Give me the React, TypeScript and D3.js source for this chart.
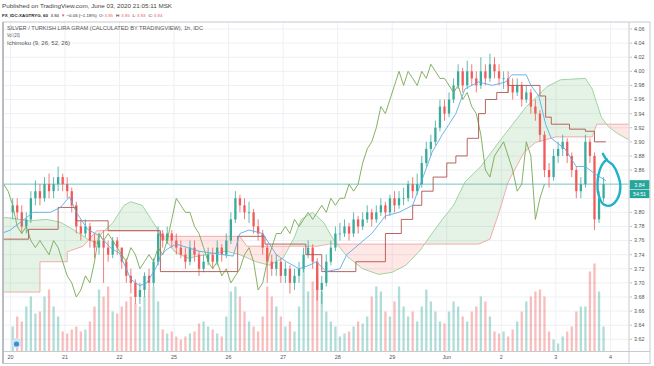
import * as d3 from 'd3';
import { useEffect } from 'react';

const dayLabels = ['20', '21', '22', '25', '26', '27', '28', '29', 'Jun', '2', '3', '4'];
const priceTicks = [3.62, 3.64, 3.66, 3.68, 3.70, 3.72, 3.74, 3.76, 3.78, 3.80, 3.82, 3.84, 3.86, 3.88, 3.90, 3.92, 3.94, 3.96, 3.98, 4.00, 4.02, 4.04, 4.06];

// 2h bars from May 20 00:00 (trading hours only)
const firstOpen = 3.80;
const closes = [
  3.81, 3.80, 3.78, 3.79, 3.82, 3.83, 3.82, 3.84, 3.83, 3.84, 3.85, 3.84,
  3.83, 3.81, 3.78, 3.77, 3.78, 3.76, 3.75, 3.76, 3.75, 3.74, 3.76, 3.75,
  3.73, 3.71, 3.70, 3.68, 3.69, 3.71, 3.70, 3.73, 3.77, 3.76, 3.77, 3.76,
  3.75, 3.74, 3.73, 3.75, 3.74, 3.72, 3.73, 3.74, 3.73, 3.75, 3.74, 3.76,
  3.79, 3.82, 3.81, 3.80, 3.80, 3.78, 3.77, 3.75, 3.73, 3.72, 3.73, 3.71,
  3.72, 3.70, 3.71, 3.72, 3.74, 3.75, 3.73, 3.69, 3.70, 3.73, 3.75, 3.77,
  3.77, 3.78, 3.77, 3.79, 3.78, 3.79, 3.80, 3.79, 3.80, 3.81, 3.80, 3.82,
  3.81, 3.82, 3.82, 3.84, 3.83, 3.84, 3.87, 3.89, 3.90, 3.92, 3.95, 3.94,
  3.96, 3.98, 4.00, 3.98, 4.00, 3.99, 3.98, 4.00, 3.99, 4.01, 4.00, 3.99,
  3.99, 3.98, 3.97, 3.98, 3.96, 3.97, 3.95, 3.94, 3.91, 3.86, 3.85, 3.88,
  3.89, 3.90, 3.88, 3.86, 3.83, 3.84, 3.90, 3.88, 3.79, 3.82, 3.84,
];
const highs = [
  3.82, 3.82, 3.81, 3.80, 3.83, 3.845, 3.84, 3.85, 3.855, 3.85, 3.865, 3.855,
  3.85, 3.835, 3.815, 3.79, 3.79, 3.785, 3.77, 3.77, 3.775, 3.76, 3.765, 3.765,
  3.75, 3.735, 3.72, 3.705, 3.70, 3.715, 3.72, 3.735, 3.78, 3.775, 3.78, 3.775,
  3.77, 3.76, 3.75, 3.76, 3.76, 3.745, 3.74, 3.75, 3.75, 3.76, 3.755, 3.77,
  3.80, 3.83, 3.825, 3.82, 3.815, 3.805, 3.79, 3.775, 3.755, 3.74, 3.74, 3.735,
  3.73, 3.725, 3.72, 3.73, 3.75, 3.76, 3.755, 3.735, 3.71, 3.74, 3.76, 3.78,
  3.785, 3.79, 3.785, 3.80, 3.795, 3.80, 3.81, 3.805, 3.81, 3.82, 3.815, 3.825,
  3.83, 3.83, 3.835, 3.845, 3.85, 3.855, 3.88, 3.90, 3.91, 3.93, 3.96, 3.96,
  3.97, 3.99, 4.01, 4.005, 4.015, 4.01, 4.00, 4.02, 4.01, 4.025, 4.02, 4.01,
  4.00, 4.00, 3.99, 3.99, 3.985, 3.98, 3.975, 3.96, 3.945, 3.915, 3.87, 3.89,
  3.90, 3.91, 3.905, 3.885, 3.865, 3.85, 3.91, 3.905, 3.885, 3.83, 3.85,
];
const lows = [
  3.79, 3.79, 3.77, 3.77, 3.785, 3.81, 3.81, 3.815, 3.82, 3.82, 3.83, 3.83,
  3.82, 3.80, 3.77, 3.76, 3.765, 3.75, 3.735, 3.74, 3.70, 3.73, 3.735, 3.74,
  3.72, 3.70, 3.685, 3.67, 3.67, 3.68, 3.69, 3.695, 3.725, 3.75, 3.755, 3.75,
  3.74, 3.735, 3.72, 3.725, 3.73, 3.71, 3.715, 3.725, 3.72, 3.725, 3.73, 3.735,
  3.755, 3.785, 3.80, 3.79, 3.785, 3.77, 3.76, 3.74, 3.70, 3.71, 3.71, 3.70,
  3.70, 3.685, 3.69, 3.70, 3.715, 3.735, 3.72, 3.675, 3.67, 3.695, 3.725, 3.745,
  3.76, 3.765, 3.76, 3.765, 3.77, 3.775, 3.785, 3.78, 3.785, 3.795, 3.79, 3.795,
  3.80, 3.805, 3.81, 3.815, 3.82, 3.825, 3.835, 3.865, 3.88, 3.895, 3.915, 3.93,
  3.935, 3.955, 3.975, 3.97, 3.975, 3.98, 3.97, 3.975, 3.98, 3.985, 3.99, 3.98,
  3.975, 3.97, 3.96, 3.965, 3.95, 3.955, 3.94, 3.93, 3.90, 3.85, 3.835, 3.845,
  3.87, 3.88, 3.87, 3.85, 3.82, 3.82, 3.835, 3.87, 3.775, 3.785, 3.815,
];
const volumes = [
  25, 35, 30, 45, 55, 38, 40, 55, 62, 45, 35, 20,
  18, 22, 25, 20, 22, 30, 45, 62, 55, 65, 40, 38,
  45, 50, 55, 48, 45, 55, 62, 65, 50, 22, 18, 20,
  15, 12, 15, 18, 20, 28, 30, 25, 22, 18, 15, 35,
  60, 65, 55, 40, 30, 25, 20, 35, 65, 55, 45, 35,
  25, 30, 20, 45, 85, 60, 70, 75, 60, 40, 30, 25,
  15, 18, 20, 25, 30, 28, 35, 55, 65, 60, 40, 35,
  50, 65, 45, 35, 40, 30, 45, 62, 50, 40, 30, 28,
  40, 50, 45, 35, 30, 40, 45, 55, 50, 35, 20, 18,
  20, 15, 22, 30, 40, 50, 55, 60, 62, 55, 20, 12,
  8, 15, 20, 25, 40, 45, 45, 80, 88, 60, 25,
];

// ichimoku lines: [hour, price]
const tenkan: [number, number][] = [
  [-4, 3.77], [0, 3.775], [10, 3.80], [17.5, 3.80], [22, 3.807], [26, 3.822], [29, 3.80], [34, 3.776],
  [39.5, 3.766], [44, 3.75], [48, 3.742], [53, 3.705], [57, 3.696], [60, 3.70], [64.5, 3.724],
  [66, 3.738], [69, 3.748], [73, 3.755], [78, 3.75], [83, 3.745], [89, 3.742], [98, 3.738],
  [101, 3.77], [105, 3.775], [111, 3.77], [114, 3.755], [117, 3.74], [121.5, 3.73], [127, 3.72],
  [131.5, 3.725], [134.6, 3.73], [139, 3.716], [145, 3.72], [148, 3.74], [153.5, 3.755], [159, 3.77],
  [165, 3.795], [171, 3.80], [177, 3.81], [181, 3.845], [185.5, 3.885], [190, 3.91], [196, 3.94],
  [200, 3.975], [206, 3.985], [212, 3.98], [218, 3.985], [220.6, 3.995], [227, 3.995], [229, 3.98],
  [232.5, 3.965], [235.5, 3.925], [238, 3.905], [244, 3.89], [249, 3.865], [253, 3.865], [257, 3.855],
  [262, 3.845],
];
const kijun: [number, number][] = [
  [-4, 3.762], [8, 3.776], [21, 3.807], [29, 3.788], [43, 3.774], [66, 3.716], [100, 3.766],
  [112, 3.755], [130, 3.74], [137, 3.716], [148, 3.716], [152, 3.73], [165, 3.77], [172, 3.79],
  [177, 3.81], [181, 3.83], [186, 3.85], [192, 3.87], [196, 3.88], [201, 3.905], [206, 3.94],
  [209, 3.96], [214, 3.97], [219, 3.98], [233, 3.965], [235.5, 3.935], [238, 3.925], [246, 3.918],
  [253, 3.915], [257, 3.90], [262, 3.90],
];
const spanA: [number, number][] = [
  [-4, 3.793], [0, 3.792], [8, 3.788], [16, 3.79], [22, 3.786], [28, 3.775], [34, 3.762], [38, 3.756],
  [40, 3.77], [45, 3.785], [50, 3.81], [53, 3.815], [58, 3.81], [62, 3.79], [66, 3.77], [72, 3.745],
  [78, 3.735], [86, 3.74], [95, 3.745], [101, 3.74], [108, 3.73], [114, 3.725], [120, 3.735],
  [125, 3.765], [128, 3.79], [133, 3.80], [138, 3.785], [142, 3.762], [148, 3.738], [155, 3.72],
  [162, 3.712], [168, 3.715], [174, 3.725], [180, 3.745], [185.5, 3.77], [190, 3.79], [195, 3.81],
  [200, 3.843], [207, 3.865], [215, 3.90], [221, 3.925], [227, 3.95], [232, 3.965], [236, 3.978],
  [242, 3.988], [253, 3.99], [256, 3.975], [258, 3.955], [260, 3.935], [263, 3.922], [267, 3.912],
  [272, 3.903],
];
const spanB: [number, number][] = [
  [-4, 3.687], [13, 3.687], [13, 3.73], [25, 3.73], [25, 3.744], [32, 3.752], [38, 3.774],
  [64.5, 3.774], [66, 3.766], [101, 3.766], [104, 3.752], [135, 3.752], [140, 3.755], [206, 3.755],
  [211, 3.762], [215, 3.80], [219, 3.843], [226, 3.885], [231, 3.899], [240, 3.907], [256, 3.907],
  [258, 3.925], [272, 3.925],
];

// hand drawn loop around the last bars: [hour, price]
const loopMark: [number, number][] = [
  [260.7, 3.883], [262.5, 3.874], [265.1, 3.867], [267.3, 3.853], [268.4, 3.836], [267.1, 3.819],
  [264.2, 3.81], [261.1, 3.811], [258.8, 3.825], [258.4, 3.845], [259.4, 3.861], [261.1, 3.871],
  [262.5, 3.875],
];

// header pieces: text, x, colour, bold
const headerParts: [string, number, string, boolean][] = [
  ['FX_IDC:XAGTRYG, 60', 2, '#222', true],
  ['3.84', 50.5, '#222', false],
  ['▼', 61, '#ef5a5a', false],
  ['−0.05 (−1.18%)', 66.5, '#222', false],
  ['O:', 99, '#222', false],
  ['3.85', 104.5, '#ef5a5a', false],
  ['H:', 116, '#222', false],
  ['3.85', 121.3, '#ef5a5a', false],
  ['L:', 132.5, '#222', false],
  ['3.83', 137, '#ef5a5a', false],
  ['C:', 148.5, '#222', false],
  ['3.84', 153.8, '#ef5a5a', false],
];

const UP = '#3aaa9b';
const DOWN = '#ef5a5a';
const FONT = "'Liberation Sans', Arial, sans-serif";

export default function App() {
  useEffect(() => {
    document.body.style.margin = '0';
  }, []);

  const W = 654, H = 366;
  const left = 3, right = 629, top = 22, bottom = 351.5;

  const x = d3.scaleLinear().domain([0, 264]).range([10.4, 610.4]);
  const y = d3.scaleLinear().domain([3.62, 4.06]).range([339.3, 29]);
  const yv = d3.scaleLinear().domain([0, 100]).range([bottom, bottom - 100]);

  const bars = closes.map((c, i) => {
    const o = i === 0 ? firstOpen : closes[i - 1];
    return { t: 2 * i + 1, o, c, hi: highs[i], lo: lows[i], v: volumes[i], up: c >= o };
  });
  const chikou: [number, number][] = closes.map((c, i) => [2 * i + 1 - 26, c]);

  const line = d3.line<[number, number]>().x(d => x(d[0])).y(d => y(d[1]));
  const stepLine = d3.line<[number, number]>().x(d => x(d[0])).y(d => y(d[1])).curve(d3.curveStepAfter);
  const loopLine = d3.line<[number, number]>().x(d => x(d[0])).y(d => y(d[1])).curve(d3.curveCatmullRom);

  const cloud = line([...spanA, ...spanB.slice().reverse()]) + 'Z';
  const bPath = line(spanB) ?? '';
  const bx0 = x(spanB[0][0]), bx1 = x(spanB[spanB.length - 1][0]);
  const clipAbove = `${bPath}L${bx1},0L${bx0},0Z`;
  const clipBelow = `${bPath}L${bx1},${H}L${bx0},${H}Z`;

  const bw = 2.3;
  const lastClose = closes[closes.length - 1];

  return (
    <svg width={W} height={H} style={{ display: 'block', background: '#fff', fontFamily: FONT }}>
      <defs>
        <clipPath id="pane"><rect x={left} y={top} width={right - left} height={bottom - top} /></clipPath>
        <clipPath id="above"><path d={clipAbove} /></clipPath>
        <clipPath id="below"><path d={clipBelow} /></clipPath>
      </defs>

      {/* header */}
      <text x={2} y={7.5} fontSize={5.6} fill="#444" textLength={170} lengthAdjust="spacingAndGlyphs">
        Published on TradingView.com, June 03, 2020 21:05:11 MSK
      </text>
      <g fontSize={4.4}>
        {headerParts.map(([t, px, col, bold], i) => (
          <text key={'h' + i} x={px} y={16.5} fill={col} fontWeight={bold ? 'bold' : 'normal'}>{t}</text>
        ))}
      </g>

      {/* grid */}
      <g stroke="#eef0f4" strokeWidth={1}>
        {priceTicks.map(p => (
          <line key={p} x1={left} x2={right} y1={y(p)} y2={y(p)} />
        ))}
        {dayLabels.map((d, i) => (
          <line key={d} x1={x(i * 24)} x2={x(i * 24)} y1={top} y2={bottom} />
        ))}
      </g>

      <g clipPath="url(#pane)">
        {/* volume */}
        {bars.map(b => (
          <rect key={'v' + b.t} x={x(b.t) - bw / 2} width={bw} y={yv(b.v)} height={bottom - yv(b.v)}
            fill={b.up ? UP : DOWN} opacity={0.4} />
        ))}

        {/* cloud */}
        <path d={cloud} fill="rgba(76,175,80,0.15)" clipPath="url(#above)" />
        <path d={cloud} fill="rgba(244,67,54,0.13)" clipPath="url(#below)" />
        <path d={line(spanA) ?? ''} fill="none" stroke="#98cf98" strokeWidth={0.9} />
        <path d={line(spanB) ?? ''} fill="none" stroke="#f2a3a3" strokeWidth={0.9} />

        {/* last price line */}
        <line x1={left} x2={right} y1={y(lastClose)} y2={y(lastClose)} stroke="#7ccbc3" strokeWidth={1} />

        {/* candles */}
        {bars.map(b => {
          const col = b.up ? UP : DOWN;
          const yt = y(Math.max(b.o, b.c));
          const yb = y(Math.min(b.o, b.c));
          return (
            <g key={'c' + b.t}>
              <line x1={x(b.t)} x2={x(b.t)} y1={y(b.hi)} y2={y(b.lo)} stroke={col} strokeWidth={0.8} />
              <rect x={x(b.t) - bw / 2} width={bw} y={yt} height={Math.max(0.8, yb - yt)} fill={col} />
            </g>
          );
        })}

        {/* ichimoku lines */}
        <path d={line(chikou) ?? ''} fill="none" stroke="#78a852" strokeWidth={0.9} />
        <path d={stepLine(kijun) ?? ''} fill="none" stroke="#b0544d" strokeWidth={0.9} />
        <path d={line(tenkan) ?? ''} fill="none" stroke="#5aaeea" strokeWidth={0.9} />

        {/* drawing */}
        <path d={loopLine(loopMark) ?? ''} fill="none" stroke="#22b2c8" strokeWidth={2.4} strokeLinecap="round" />
      </g>

      {/* legend */}
      <g fontSize={5.6} fill="#555">
        <text x={7} y={29.5} textLength={196} lengthAdjust="spacingAndGlyphs">SILVER / TURKISH LIRA GRAM (CALCULATED BY TRADINGVIEW), 1h, IDC</text>
        <text x={7} y={37} textLength={13} lengthAdjust="spacingAndGlyphs">Vol (20)</text>
        <text x={7} y={44.5} textLength={63} lengthAdjust="spacingAndGlyphs">Ichimoku (9, 26, 52, 26)</text>
      </g>

      {/* logo */}
      <circle cx={16.5} cy={343} r={5} fill="#cfe3f5" />
      <circle cx={16.5} cy={344} r={2.6} fill="#3b8fd8" />

      {/* price axis */}
      <g fontSize={5.4} fill="#555">
        {priceTicks.filter(p => Math.abs(p - 3.84) > 0.001 && Math.abs(p - 3.82) > 0.001).map(p => (
          <g key={'t' + p}>
            <line x1={630} x2={632} y1={y(p)} y2={y(p)} stroke="#999" strokeWidth={0.6} />
            <text x={634} y={y(p)} dy="0.35em">{p.toFixed(2)}</text>
          </g>
        ))}
      </g>
      <rect x={629.5} y={y(lastClose) - 4} width={20} height={9} fill="#26a69a" />
      <text x={639.5} y={y(lastClose) + 0.5} dy="0.35em" textAnchor="middle" fontSize={5.4} fill="#fff">3.84</text>
      <rect x={629.5} y={y(lastClose) + 5.5} width={20} height={8.5} fill="#26a69a" />
      <text x={639.5} y={y(lastClose) + 9.8} dy="0.35em" textAnchor="middle" fontSize={5.2} fill="#fff">54:51</text>

      {/* time axis */}
      <g fontSize={5.4} fill="#555" textAnchor="middle">
        {dayLabels.map((d, i) => (
          <text key={'d' + d} x={x(i * 24)} y={358.5}>{d}</text>
        ))}
      </g>

      {/* frame */}
      <g fill="none" stroke="#c8cad0">
        <rect x={left} y={top} width={650 - left} height={363.5 - top} strokeWidth={1} />
        <line x1={right} x2={right} y1={top} y2={363.5} strokeWidth={1} />
        <line x1={left} x2={650} y1={bottom} y2={bottom} strokeWidth={1} />
        <line x1={left} x2={left} y1={top} y2={363.5} strokeWidth={1.6} stroke="#b0b3ba" />
      </g>
    </svg>
  );
}
